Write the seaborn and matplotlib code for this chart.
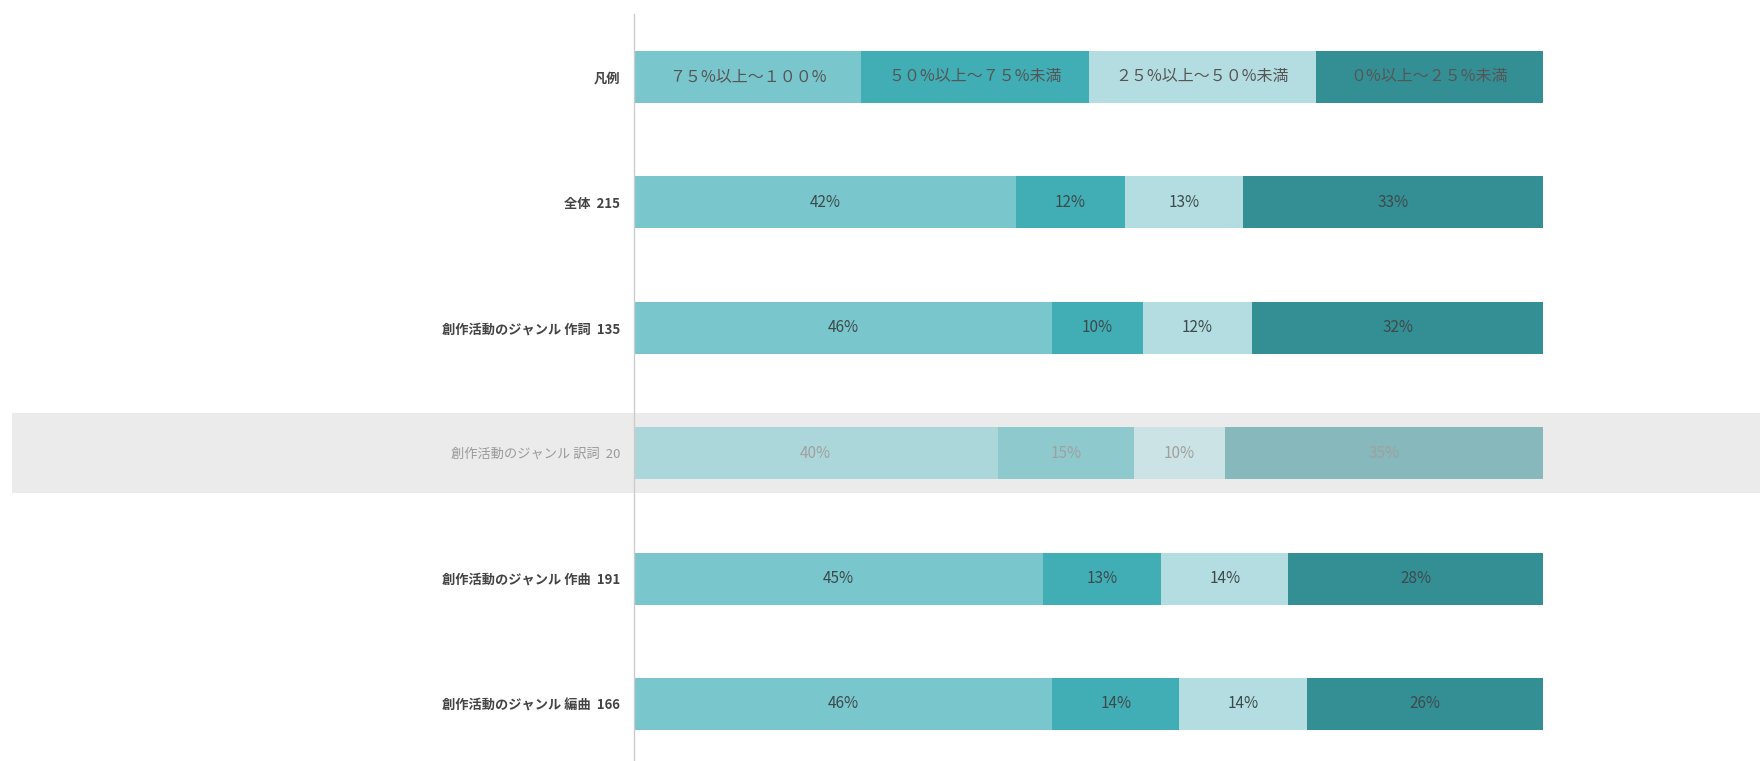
import numpy as np
import pandas as pd
import matplotlib
matplotlib.use('Agg')
import matplotlib.pyplot as plt
import matplotlib.transforms as mtransforms
from matplotlib.colors import to_rgb
from matplotlib.patches import Rectangle
import seaborn as sns

# Data
rows = ['凡例', '全体  215', '創作活動のジャンル 作詞  135', '創作活動のジャンル 訳詞  20',
        '創作活動のジャンル 作曲  191', '創作活動のジャンル 編曲  166']
legend_names = ['７５%以上～１００%', '５０%以上～７５%未満', '２５%以上～５０%未満', '０%以上～２５%未満']
seg1 = [25, 42, 46, 40, 45, 46]
seg2 = [25, 12, 10, 15, 13, 14]
seg3 = [25, 13, 12, 10, 14, 14]
seg4 = [25, 33, 32, 35, 28, 26]
colors = ['#79c6cc', '#41adb4', '#b3dde0', '#348f95']
faded_row = 3
band_color = '#ebebeb'

sns.set_style('white')
plt.rcParams['font.family'] = ['Noto Sans CJK JP', 'DejaVu Sans']

df = pd.DataFrame({'row': rows, 's1': seg1, 's2': seg2, 's3': seg3, 's4': seg4})
segs = ['s1', 's2', 's3', 's4']
cum = df[segs].cumsum(axis=1)


def fade(c, a=0.55):
    # blend a colour onto the grey highlight band
    c = np.array(to_rgb(c))
    b = np.array(to_rgb(band_color))
    return tuple(a * c + (1 - a) * b)


fig = plt.figure(figsize=(17.6, 7.61), dpi=100)
ax = fig.add_axes([634 / 1760, 0, 1 - 634 / 1760, 1 - 14 / 761])
ax.set_facecolor('none')
fig.patch.set_facecolor('white')

# Stacked bars: draw the cumulative totals from longest to shortest
for k in reversed(range(4)):
    n_before = len(ax.patches)
    sns.barplot(x=cum[segs[k]], y=df['row'], color=colors[k], orient='h',
                width=0.415, saturation=1, linewidth=0, ax=ax, zorder=2)
    # Fade the highlighted row
    for p in ax.patches[n_before:]:
        if abs(p.get_y() + p.get_height() / 2 - faded_row) < 0.01:
            p.set_facecolor(fade(colors[k]))

# Grey highlight band across the whole figure
trans = mtransforms.blended_transform_factory(fig.transFigure, ax.transData)
band = Rectangle((12 / 1760, faded_row - 0.32), 1 - 12 / 1760, 0.64, transform=trans,
                 facecolor=band_color, edgecolor='none', zorder=-1)
fig.add_artist(band)

# Labels in segments
for i in range(len(rows)):
    for k in range(4):
        v = df[segs[k]][i]
        xc = cum[segs[k]][i] - v / 2
        if i == 0:
            ax.text(xc, i, legend_names[k], ha='center', va='center', fontsize=11.5,
                    color='#555555', zorder=5)
        else:
            col = '#a0a0a0' if i == faded_row else '#3d4a4c'
            ax.text(xc, i, f'{v}%', ha='center', va='center', fontsize=11,
                    color=col, zorder=5)

ax.set_xlim(0, 100 * (1760 - 634) / (1543 - 634))
ax.set_ylim(5 + 57 / 125.4, -63 / 125.4)
ax.set_xlabel('')
ax.set_ylabel('')
ax.set_xticks([])
ax.set_yticks(range(len(rows)))
ax.set_yticklabels(rows, fontsize=9.5, color='#444444', fontweight='bold')
ax.get_yticklabels()[faded_row].set_color('#9a9a9a')
ax.get_yticklabels()[faded_row].set_fontweight('normal')
ax.set_yticks(np.arange(0.5, len(rows) - 0.5, 1), minor=True)
ax.tick_params(axis='y', which='major', length=0, pad=10)
ax.tick_params(axis='y', which='minor', length=5, color='#dddddd', width=1)

for s in ['top', 'right', 'bottom']:
    ax.spines[s].set_visible(False)
ax.spines['left'].set_color('#cccccc')
ax.spines['left'].set_linewidth(1)

fig.savefig('out.png', dpi=100)
